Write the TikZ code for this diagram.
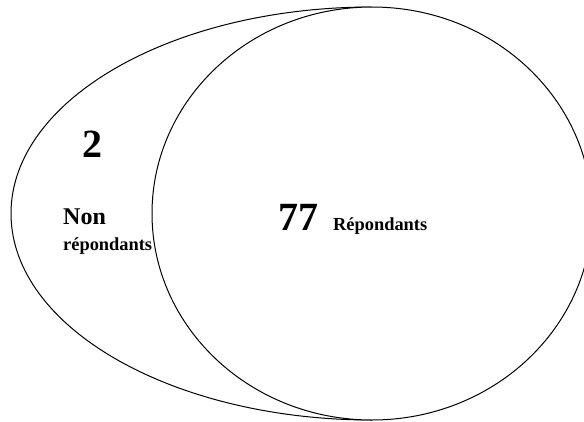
\documentclass[tikz,border=0pt]{standalone}
\usepackage{fontspec}
\setmainfont{Liberation Serif}
\begin{document}
\begin{tikzpicture}[x=1pt,y=-1pt,
  outline/.style={draw=black,line width=1pt},
  big/.style={font=\fontsize{40}{40}\selectfont\bfseries,inner sep=0pt,anchor=base west},
  mid/.style={font=\fontsize{24}{24}\selectfont\bfseries,inner sep=0pt,anchor=base west},
  small/.style={font=\fontsize{18.4}{18.4}\selectfont\bfseries,inner sep=0pt,anchor=base west}]
\useasboundingbox (0,0) rectangle (584,421);
\clip (0,0) rectangle (584,421);
% left half ellipse
\draw[outline] (372,7) arc[start angle=270,end angle=90,x radius=361,y radius=206.5];
% circle
\draw[outline,fill=white] (372,213.5) ellipse[x radius=220,y radius=206.5];
\node[big] (two) at (82,157.5) {2};
\node[mid] (non) at (63,224) {Non};
\node[small] (nonrep) at (63,250) {répondants};
\node[big] (sev) at (278,230) {77};
\node[small] (rep) at (333,230.5) {Répondants};
\end{tikzpicture}
\end{document}
